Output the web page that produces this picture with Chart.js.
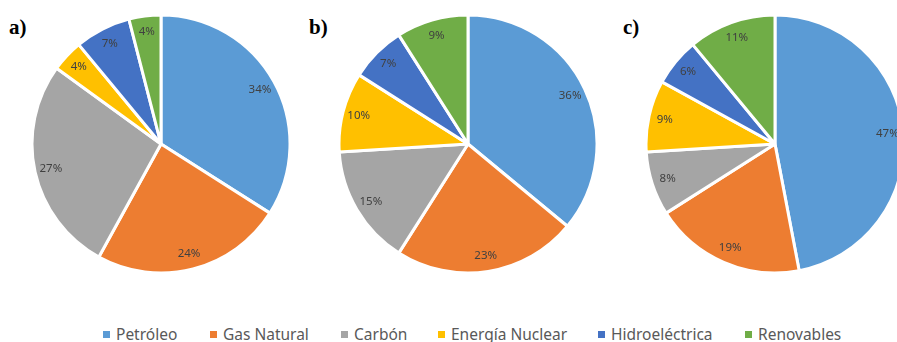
<!DOCTYPE html>
<html>
<head>
<meta charset="utf-8">
<script src="https://cdn.jsdelivr.net/npm/chart.js@4.4.1/dist/chart.umd.min.js"></script>
<style>
  html, body { margin: 0; padding: 0; background: #fff; overflow: hidden; }
  #stage { position: relative; width: 897px; height: 342px; overflow: hidden; }
  .pie { position: absolute; width: 262px; height: 262px; }
  .tag { position: absolute; font-family: "Liberation Serif", serif; font-weight: bold; font-size: 21px; color: #000; line-height: 1; }
  .leg { position: absolute; top: 324px; height: 20px; font-family: "Noto Sans", sans-serif; font-size: 15.5px; color: #595959; white-space: nowrap; }
  .leg i { position: absolute; top: 7px; width: 7px; height: 7px; }
  .leg span { position: absolute; top: -1px; }
</style>
</head>
<body>
<div id="stage">
  <div class="tag" style="left:9px;top:17px;">a)</div>
  <div class="tag" style="left:309px;top:17px;">b)</div>
  <div class="tag" style="left:623px;top:17px;">c)</div>
  <div class="pie" style="left:30px;top:13px;"><canvas id="pieA"></canvas></div>
  <div class="pie" style="left:337px;top:13px;"><canvas id="pieB"></canvas></div>
  <div class="pie" style="left:644px;top:13px;"><canvas id="pieC"></canvas></div>
  <div id="legend"></div>
</div>
<script>
// Energy sources (legend order = slice order, clockwise from 12 o'clock)
const categories = ["Petróleo", "Gas Natural", "Carbón", "Energía Nuclear", "Hidroeléctrica", "Renovables"];
// Share of each source, in percent
const valuesA = [34, 24, 27, 4, 7, 4];
const valuesB = [36, 23, 15, 10, 7, 9];
const valuesC = [47, 19, 8, 9, 6, 11];

const palette = ["#5B9BD5", "#ED7D31", "#A5A5A5", "#FFC000", "#4472C4", "#70AD47"];

// Writes the percentage inside each slice, near its outer edge
const sliceLabels = {
  id: "sliceLabels",
  afterDatasetsDraw(chart) {
    const ctx = chart.ctx;
    const meta = chart.getDatasetMeta(0);
    const data = chart.data.datasets[0].data;
    ctx.save();
    ctx.font = "11.5px 'Noto Sans', sans-serif";
    ctx.fillStyle = "#404040";
    ctx.textAlign = "center";
    ctx.textBaseline = "middle";
    meta.data.forEach((arc, i) => {
      const p = arc.getProps(["x", "y", "startAngle", "endAngle", "outerRadius"], true);
      const mid = (p.startAngle + p.endAngle) / 2;
      const r = p.outerRadius * 0.875;
      ctx.fillText(data[i] + "%", p.x + Math.cos(mid) * r, p.y + Math.sin(mid) * r);
    });
    ctx.restore();
  }
};

function makePie(id, values) {
  return new Chart(document.getElementById(id), {
    type: "pie",
    data: {
      labels: categories,
      datasets: [{
        data: values,
        backgroundColor: palette,
        borderColor: "#ffffff",
        borderWidth: 3
      }]
    },
    options: {
      responsive: true,
      maintainAspectRatio: false,
      animation: false,
      radius: 129,
      layout: { padding: 0 },
      plugins: { legend: { display: false }, tooltip: { enabled: false } }
    },
    plugins: [sliceLabels]
  });
}

makePie("pieA", valuesA);
makePie("pieB", valuesB);
makePie("pieC", valuesC);

// Shared legend under the three pies
const legendX = [103, 210, 341, 438, 598, 745];
const legend = document.getElementById("legend");
categories.forEach((name, i) => {
  const item = document.createElement("div");
  item.className = "leg";
  item.style.left = legendX[i] + "px";
  const box = document.createElement("i");
  box.style.left = "0px";
  box.style.background = palette[i];
  const txt = document.createElement("span");
  txt.style.left = "13px";
  txt.textContent = name;
  item.appendChild(box);
  item.appendChild(txt);
  legend.appendChild(item);
});
</script>
</body>
</html>
